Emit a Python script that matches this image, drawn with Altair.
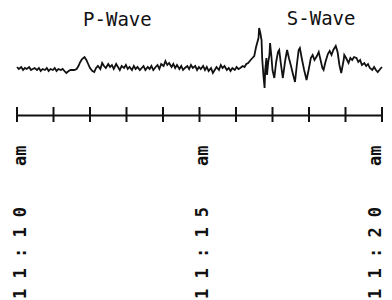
import altair as alt
import pandas as pd

# seismogram trace: seconds after 11:10 am, amplitude (arbitrary units)
seconds = [0, 3, 7, 10, 13, 16, 20, 23, 26, 29, 33, 36, 39, 42, 46, 49, 52, 55, 59, 62,
           65, 68, 72, 75, 78, 81, 85, 88, 91, 94, 98, 101, 104, 107, 111, 114, 117, 120, 124, 127,
           130, 133, 137, 140, 143, 146, 150, 153, 156, 159, 163, 166, 169, 172, 176, 179, 182, 185, 189, 192,
           195, 198, 202, 205, 208, 211, 215, 218, 221, 224, 228, 231, 234, 237, 241, 244, 247, 250, 254, 257,
           260, 263, 267, 270, 273, 276, 280, 283, 286, 289, 293, 296, 299, 302, 306, 309, 312, 315, 319, 322,
           325, 328, 332, 335, 338, 341, 345, 348, 351, 354, 358, 361, 364, 367, 371, 374, 377, 380, 384, 387,
           390, 393, 397, 398, 400, 402, 403, 405, 407, 408, 410, 411, 413, 415, 416, 418, 420, 423, 426, 429,
           431, 434, 437, 441, 444, 447, 450, 454, 457, 460, 463, 465, 468, 472, 476, 480, 483, 486, 489, 493,
           496, 499, 502, 504, 507, 511, 514, 517, 520, 524, 527, 530, 533, 537, 538, 541, 545, 548, 551, 554,
           558, 561, 564, 567, 571, 574, 577, 580, 584, 587, 590, 593, 597, 600]
amplitude = [3, 1, 3, 0, 2, 1, 3, 0, 1, 2, 0, 2, -1, 1, 0, 2, -1, 1, 0, 2,
             -1, 1, 0, 1, -1, -3, -1, 0, 0, 0, 1, 4, 8, 11, 13, 10, 6, 2, -1, -2,
             2, 4, 1, 7, 4, 2, 6, 3, 5, 1, 6, 3, 0, 4, 2, 5, 1, 3, 0, 4,
             1, 3, 0, 2, 4, 0, 3, 1, 4, 0, 3, 5, 1, 6, 4, 9, 5, 7, 3, 6,
             2, 5, 1, 4, 0, 2, 4, 1, 5, 2, 4, 0, 3, 1, 4, 0, 3, -1, 2, -3,
             0, 3, 0, 5, 2, 4, 0, 2, -1, 2, 0, 3, 1, 2, 4, 3, 6, 7, 10, 12,
             14, 23, 32, 42, 37, 30, 12, -5, -18, 0, 12, -5, 8, 15, 27, 15, 0, -8, 8, 18,
             20, 5, -8, 10, 20, 12, 5, -5, -12, 5, 20, 22, 12, 0, -10, 2, 12, 15, 10, 14,
             18, 10, 2, 0, 8, 16, 19, 15, 20, 24, 18, 5, -3, 10, 15, 12, 7, 12, 10, 13,
             12, 8, 10, 5, 7, 4, 6, 2, 0, 3, 0, -2, 1, 3]

tick_seconds = [0, 60, 120, 180, 240, 300, 360, 420, 480, 540, 600]
label_seconds = [0, 300, 600]
label_texts = ["11:10 am", "11:15 am", "11:20 am"]
wave_names = ["P-Wave", "S-Wave"]
wave_seconds = [165, 500]
wave_amp = [50, 51]

NB = "\u00a0"


def spaced(s):
    time, ampm = s.split(" ")
    return NB.join(time) + NB * 4 + ampm


expr = "datum.value == {0} ? '{1}' : datum.value == {2} ? '{3}' : '{4}'".format(
    label_seconds[0], spaced(label_texts[0]), label_seconds[1], spaced(label_texts[1]),
    spaced(label_texts[2]))

df = pd.DataFrame({"t": seconds, "a": amplitude})
ticks_df = pd.DataFrame({"t": tick_seconds})
names_df = pd.DataFrame({"t": wave_seconds, "a": wave_amp, "name": wave_names})

x_scale = alt.Scale(domain=[0, 600], nice=False, zero=False)
y_scale = alt.Scale(domain=[-45, 56], nice=False, zero=False)

x_axis = alt.Axis(
    values=label_seconds, labelExpr=expr, title=None, grid=False,
    domain=True, domainColor="#111111", domainWidth=2,
    ticks=False, tickSize=0, labelAngle=-90, labelPadding=30,
    labelOffset={"condition": {"test": "datum.value == 600", "value": -7}, "value": 3},
    labelFont="DejaVu Sans Mono", labelFontWeight="bold", labelFontSize=17,
    labelColor="#111111", labelFlush=False, labelOverlap=False, labelBound=False)

line = alt.Chart(df).mark_line(color="#111111", strokeWidth=1.8).encode(
    x=alt.X("t:Q", scale=x_scale, axis=x_axis),
    y=alt.Y("a:Q", scale=y_scale, axis=None),
)

ticks = alt.Chart(ticks_df).mark_rule(color="#111111", strokeWidth=2).encode(
    x=alt.X("t:Q", scale=x_scale, axis=x_axis),
    y=alt.value(93),
    y2=alt.value(108),
)

names = alt.Chart(names_df).mark_text(font="DejaVu Sans Mono", fontSize=19, color="#111111").encode(
    x=alt.X("t:Q", scale=x_scale, axis=x_axis),
    y=alt.Y("a:Q", scale=y_scale, axis=None),
    text="name:N",
)

chart = alt.layer(line, ticks, names).properties(
    width=365, height=101,
    padding={"left": 9, "top": 6, "right": 2, "bottom": 185},
    autosize=alt.AutoSizeParams(type="none"),
    background="white",
).configure_view(stroke=None)

chart.save("out.html", embed_options={"renderer": "svg", "actions": False})
